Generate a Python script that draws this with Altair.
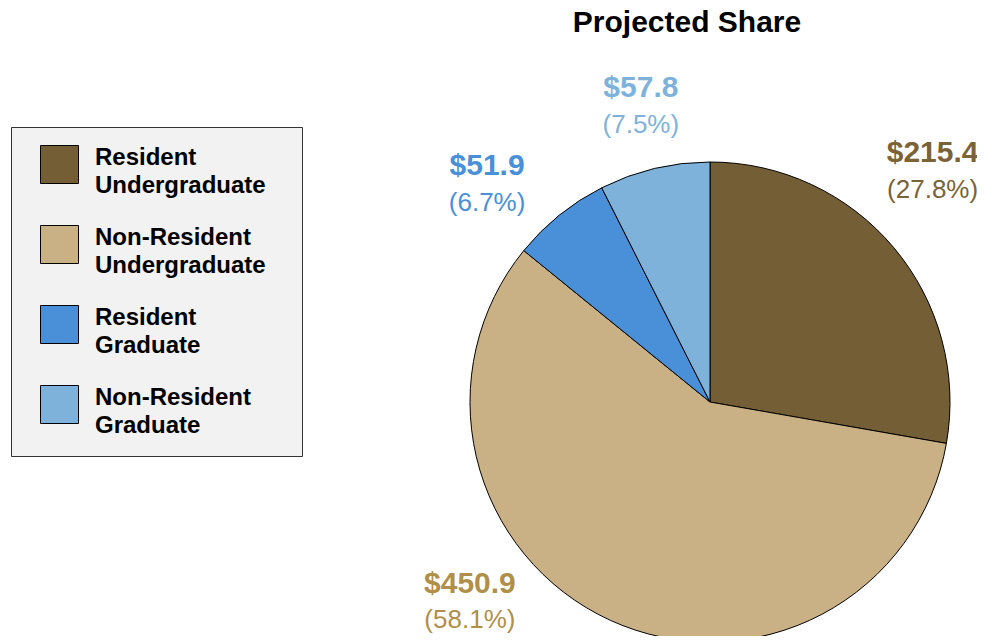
import altair as alt
import pandas as pd

categories = ["Resident Undergraduate", "Non-Resident Undergraduate",
              "Resident Graduate", "Non-Resident Graduate"]
values = [215.4, 450.9, 51.9, 57.8]
percents = [27.8, 58.1, 6.7, 7.5]

slice_colors = ["#735E36", "#C9B185", "#4A90D9", "#7FB2DB"]
label_colors = ["#7A6336", "#B09048", "#4A90D9", "#7FB2DB"]
# layout: angular nudge (degrees) and distance (px) of each label from the centre
label_shift = [-6.06, 25.8, -6.75, 0.26]
label_radius = [321, 312, 312, 304]

total = sum(values)
rows = []
cum = 0.0
for i, (c, v, p) in enumerate(zip(categories, values, percents)):
    mid = (cum + v / 2) / total * 360
    cum += v
    rows.append({
        "idx": i, "category": c, "value": v,
        "vlabel": f"${v:.1f}", "plabel": f"({p:.1f}%)",
        "label_deg": mid + label_shift[i], "label_r": label_radius[i],
        "lc": label_colors[i],
    })
df = pd.DataFrame(rows)

FONT = "Liberation Sans"

pie = alt.Chart(df).mark_arc(outerRadius=240, stroke="black", strokeWidth=1).encode(
    theta=alt.Theta("value:Q", stack=True),
    color=alt.Color(
        "category:N",
        sort=categories,
        scale=alt.Scale(domain=categories, range=slice_colors),
        legend=alt.Legend(
            title=None, orient="none", legendX=-432, legendY=-41,
            symbolType="square", symbolSize=1444, symbolStrokeColor="black",
            symbolStrokeWidth=1, symbolOpacity=1, symbolOffset=11,
            labelFont=FONT, labelFontSize=24, labelFontWeight="bold",
            labelColor="black", labelBaseline="alphabetic",
            labelExpr="[split(datum.label, ' ')[0], split(datum.label, ' ')[1] + '\u2800']",
            labelOffset=16, labelLimit=400, rowPadding=25, padding=18,
            fillColor="#F2F2F2", strokeColor="#333333",
        ),
    ),
    order=alt.Order("idx:Q"),
)

theta_lbl = alt.Theta("label_deg:Q", stack=None,
                      scale=alt.Scale(domain=[0, 360], range=[0, 6.283185307179586]))
radius_lbl = alt.Radius("label_r:Q", scale=None)

vtext = alt.Chart(df).mark_text(font=FONT, fontSize=30, fontWeight="bold",
                               baseline="middle", align="center", dy=-17.5).encode(
    theta=theta_lbl, radius=radius_lbl, text="vlabel:N",
    color=alt.Color("lc:N", scale=None, legend=None),
)
ptext = alt.Chart(df).mark_text(font=FONT, fontSize=26,
                               baseline="middle", align="center", dy=19).encode(
    theta=theta_lbl, radius=radius_lbl, text="plabel:N",
    color=alt.Color("lc:N", scale=None, legend=None),
)

chart = alt.layer(pie, vtext, ptext).resolve_scale(
    theta="independent", color="independent"
).properties(
    width=534, height=468,
    padding={"left": 435, "top": 160, "right": 0, "bottom": 0},
    autosize=alt.AutoSizeParams(type="none"),
    title=alt.TitleParams("Projected Share", font=FONT, fontSize=30,
                          fontWeight="bold", color="black", dx=-23,
                          frame="group", offset=11, baseline="alphabetic"),
).configure_view(stroke=None).configure(
    style={"guide-label": {"lineHeight": 28}}
)

chart.save("out.html", embed_options={"renderer": "svg", "actions": False})
